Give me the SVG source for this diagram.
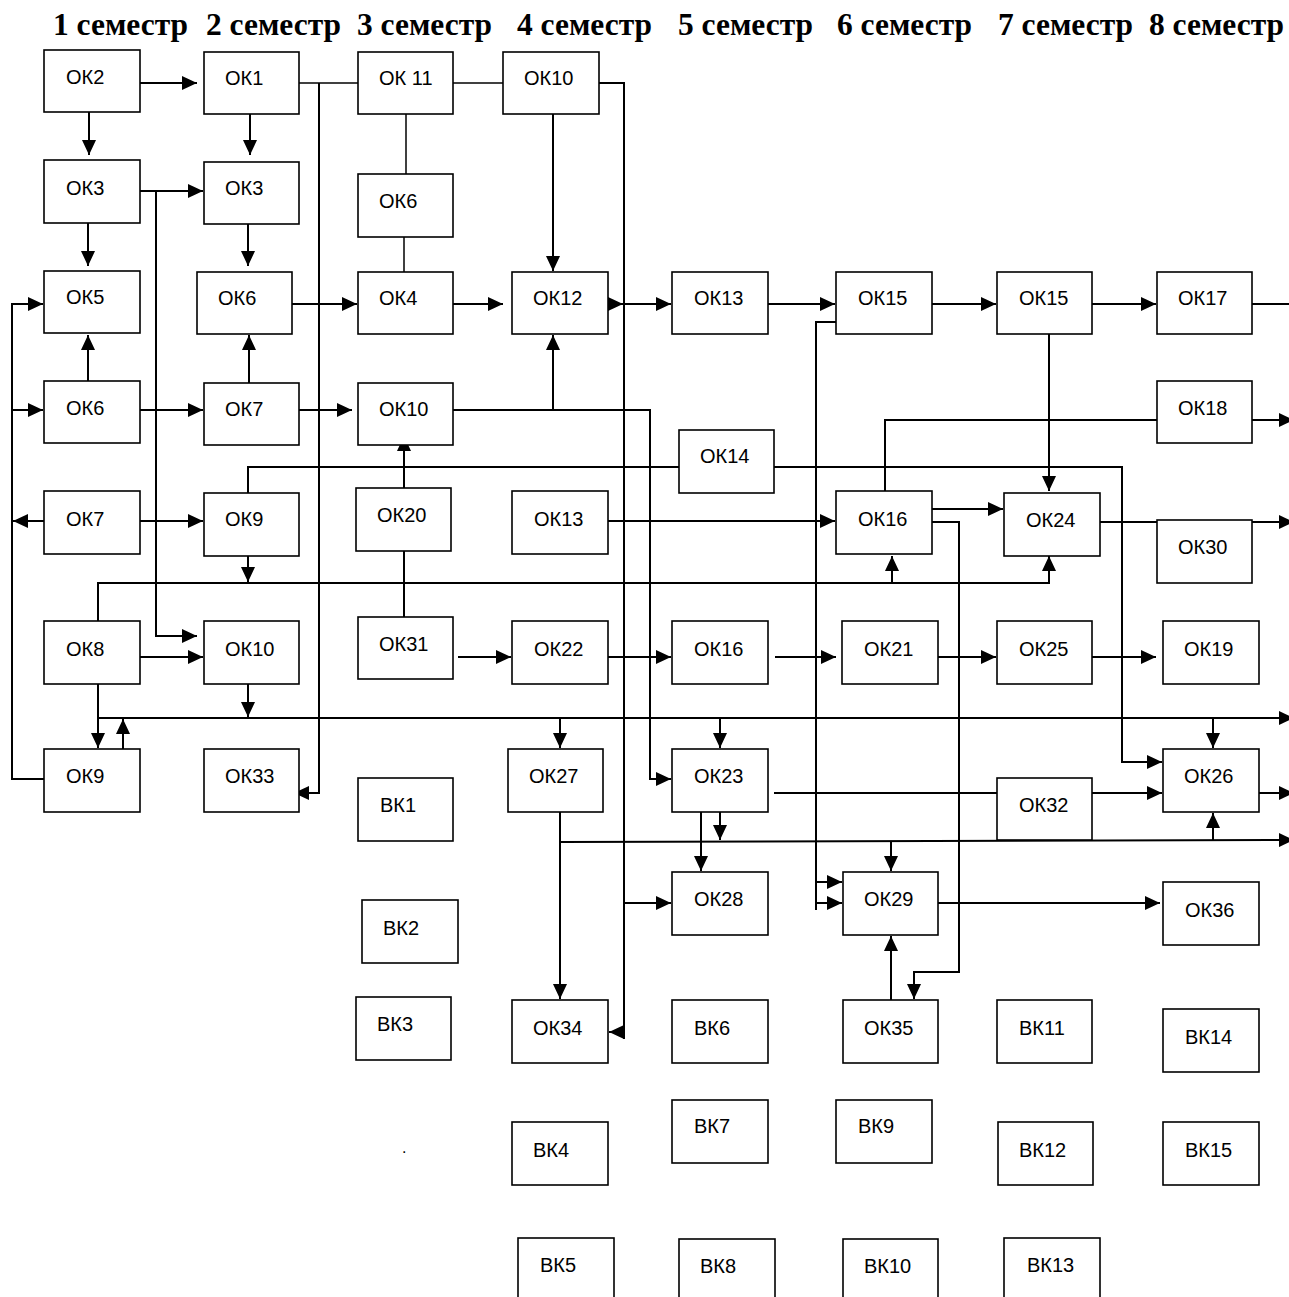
<svg xmlns="http://www.w3.org/2000/svg" width="1289" height="1297" viewBox="0 0 1289 1297">
<style>
.t{font-family:"Liberation Serif","Times New Roman",serif;font-weight:bold;font-size:32px;fill:#000}
.n rect{fill:#fff;stroke:#000;stroke-width:1.6}
.n text{font-family:"Liberation Sans",Arial,sans-serif;font-size:20px;fill:#000}
.c path{fill:none;stroke:#000;stroke-width:2}
.c path.a{marker-end:url(#ah)}
.c path.th{stroke-width:1.5}
</style>
<defs>
<marker id="ah" markerWidth="15" markerHeight="14" refX="15" refY="7" orient="auto" markerUnits="userSpaceOnUse">
<path d="M0,0 L15,7 L0,14 z" fill="#000"/>
</marker>
</defs>
<rect x="0" y="0" width="1289" height="1297" fill="#fff"/>
<g id="titles">
<text class="t" x="53" y="35" textLength="135" lengthAdjust="spacingAndGlyphs">1 семестр</text>
<text class="t" x="206" y="35" textLength="135" lengthAdjust="spacingAndGlyphs">2 семестр</text>
<text class="t" x="357" y="35" textLength="135" lengthAdjust="spacingAndGlyphs">3 семестр</text>
<text class="t" x="517" y="35" textLength="135" lengthAdjust="spacingAndGlyphs">4 семестр</text>
<text class="t" x="678" y="35" textLength="135" lengthAdjust="spacingAndGlyphs">5 семестр</text>
<text class="t" x="837" y="35" textLength="135" lengthAdjust="spacingAndGlyphs">6 семестр</text>
<text class="t" x="998" y="35" textLength="135" lengthAdjust="spacingAndGlyphs">7 семестр</text>
<text class="t" x="1149" y="35" textLength="135" lengthAdjust="spacingAndGlyphs">8 семестр</text>
</g>
<g id="connectors" class="c">
<path class="a" d="M140,83 H197"/>
<path class="a" d="M89,112 V155"/>
<path class="a" d="M250,114 V155"/>
<path class="th" d="M299,83 H358"/>
<path class="th" d="M453,83 H503"/>
<path class="th" d="M406,114 V174"/>
<path class="th" d="M404,237 V272"/>
<path class="a" d="M319,83 V793 H294"/>
<path d="M599,83 H624 V1039"/>
<path class="a" d="M624,1032 H609"/>
<path class="a" d="M624,903 H671"/>
<path class="a" d="M140,191 H203"/>
<path class="a" d="M156,191 V636 H197"/>
<path class="a" d="M88,223 V266"/>
<path class="a" d="M248,224 V266"/>
<path class="a" d="M292,304 H357"/>
<path class="a" d="M453,304 H503"/>
<path class="a" d="M553,114 V271"/>
<path class="a" d="M453,410 H650 V779 H671"/>
<path class="a" d="M553,410 V335"/>
<path class="a" d="M44,779 H12 V304 H43"/>
<path class="a" d="M12,410 H43"/>
<path class="a" d="M88,381 V335"/>
<path class="a" d="M249,383 V335"/>
<path class="a" d="M140,410 H203"/>
<path class="a" d="M299,410 H352"/>
<path class="a" d="M404,488 V436"/>
<path d="M404,551 V617"/>
<path d="M248,493 V467 H679"/>
<path class="a" d="M774,467 H1122 V762 H1162"/>
<path class="a" d="M140,521 H203"/>
<path class="a" d="M44,521 H13"/>
<path class="a" d="M248,556 V582"/>
<path class="a" d="M98,621 V583 H1049 V556"/>
<path class="a" d="M892,583 V556"/>
<path class="a" d="M140,657 H203"/>
<path class="a" d="M98,684 V748"/>
<path class="a" d="M123,749 V719"/>
<path class="a" d="M248,684 V717"/>
<path class="a" d="M98,718 H1294"/>
<path class="a" d="M560,718 V748"/>
<path class="a" d="M720,718 V748"/>
<path class="a" d="M1213,718 V748"/>
<path class="a" d="M458,657 H511"/>
<path class="a" d="M608,657 H671"/>
<path class="a" d="M775,657 H836"/>
<path class="a" d="M938,657 H996"/>
<path class="a" d="M1092,657 H1156"/>
<path class="a" d="M608,521 H835"/>
<path class="a" d="M932,509 H1003"/>
<path class="a" d="M932,522 H959 V972 H914 V999"/>
<path d="M885,491 V420 H1157"/>
<path class="a" d="M1252,420 H1294"/>
<path class="a" d="M1049,334 V491"/>
<path class="a" d="M604,304 H623"/>
<path class="a" d="M623,304 H671"/>
<path class="a" d="M768,304 H835"/>
<path class="a" d="M932,304 H996"/>
<path class="a" d="M1092,304 H1156"/>
<path d="M1252,304 H1289"/>
<path d="M836,322 H816 V910"/>
<path class="a" d="M816,882 H842"/>
<path class="a" d="M816,903 H842"/>
<path d="M774,793 H997"/>
<path class="a" d="M1092,793 H1162"/>
<path class="a" d="M1259,793 H1294"/>
<path class="a" d="M701,812 V871"/>
<path class="a" d="M720,812 V840"/>
<path class="a" d="M560,812 V999"/>
<path class="a" d="M560,842 L1294,840"/>
<path class="a" d="M891,841 V871"/>
<path class="a" d="M1213,841 V813"/>
<path class="a" d="M938,903 H1160"/>
<path class="a" d="M891,1000 V936"/>
<path class="a" d="M1100,522 H1294"/>
</g>
<g id="n_ok2" class="n"><rect x="44" y="50" width="96" height="62"/><text x="66" y="84">ОК2</text></g>
<g id="n_ok3a" class="n"><rect x="44" y="160" width="96" height="63"/><text x="66" y="195">ОК3</text></g>
<g id="n_ok5" class="n"><rect x="44" y="271" width="96" height="62"/><text x="66" y="304">ОК5</text></g>
<g id="n_ok6a" class="n"><rect x="44" y="381" width="96" height="62"/><text x="66" y="415">ОК6</text></g>
<g id="n_ok7a" class="n"><rect x="44" y="491" width="96" height="63"/><text x="66" y="526">ОК7</text></g>
<g id="n_ok8" class="n"><rect x="44" y="621" width="96" height="63"/><text x="66" y="656">ОК8</text></g>
<g id="n_ok9a" class="n"><rect x="44" y="749" width="96" height="63"/><text x="66" y="783">ОК9</text></g>
<g id="n_ok1" class="n"><rect x="204" y="52" width="95" height="62"/><text x="225" y="85">ОК1</text></g>
<g id="n_ok3b" class="n"><rect x="204" y="162" width="95" height="62"/><text x="225" y="195">ОК3</text></g>
<g id="n_ok6b" class="n"><rect x="197" y="272" width="95" height="62"/><text x="218" y="305">ОК6</text></g>
<g id="n_ok7b" class="n"><rect x="204" y="383" width="95" height="62"/><text x="225" y="416">ОК7</text></g>
<g id="n_ok9b" class="n"><rect x="204" y="493" width="95" height="63"/><text x="225" y="526">ОК9</text></g>
<g id="n_ok10b" class="n"><rect x="204" y="621" width="95" height="63"/><text x="225" y="656">ОК10</text></g>
<g id="n_ok33" class="n"><rect x="204" y="749" width="95" height="63"/><text x="225" y="783">ОК33</text></g>
<g id="n_ok11" class="n"><rect x="358" y="52" width="95" height="62"/><text x="379" y="85">ОК 11</text></g>
<g id="n_ok6c" class="n"><rect x="358" y="174" width="95" height="63"/><text x="379" y="208">ОК6</text></g>
<g id="n_ok4" class="n"><rect x="358" y="272" width="95" height="62"/><text x="379" y="305">ОК4</text></g>
<g id="n_ok10c" class="n"><rect x="358" y="383" width="95" height="62"/><text x="379" y="416">ОК10</text></g>
<g id="n_ok20" class="n"><rect x="356" y="488" width="95" height="63"/><text x="377" y="522">ОК20</text></g>
<g id="n_ok31" class="n"><rect x="358" y="617" width="95" height="62"/><text x="379" y="651">ОК31</text></g>
<g id="n_vk1" class="n"><rect x="358" y="778" width="95" height="63"/><text x="380" y="812">ВК1</text></g>
<g id="n_vk2" class="n"><rect x="362" y="900" width="96" height="63"/><text x="383" y="935">ВК2</text></g>
<g id="n_vk3" class="n"><rect x="356" y="997" width="95" height="63"/><text x="377" y="1031">ВК3</text></g>
<g id="n_ok10d" class="n"><rect x="503" y="52" width="96" height="62"/><text x="524" y="85">ОК10</text></g>
<g id="n_ok12" class="n"><rect x="512" y="272" width="96" height="62"/><text x="533" y="305">ОК12</text></g>
<g id="n_ok13a" class="n"><rect x="512" y="491" width="96" height="63"/><text x="534" y="526">ОК13</text></g>
<g id="n_ok22" class="n"><rect x="512" y="621" width="96" height="63"/><text x="534" y="656">ОК22</text></g>
<g id="n_ok27" class="n"><rect x="508" y="749" width="95" height="63"/><text x="529" y="783">ОК27</text></g>
<g id="n_ok34" class="n"><rect x="512" y="1000" width="96" height="63"/><text x="533" y="1035">ОК34</text></g>
<g id="n_vk4" class="n"><rect x="512" y="1122" width="96" height="63"/><text x="533" y="1157">ВК4</text></g>
<g id="n_vk5" class="n"><rect x="518" y="1238" width="96" height="64"/><text x="540" y="1272">ВК5</text></g>
<g id="n_ok13b" class="n"><rect x="672" y="272" width="96" height="62"/><text x="694" y="305">ОК13</text></g>
<g id="n_ok14" class="n"><rect x="679" y="430" width="95" height="63"/><text x="700" y="463">ОК14</text></g>
<g id="n_ok16a" class="n"><rect x="672" y="621" width="96" height="63"/><text x="694" y="656">ОК16</text></g>
<g id="n_ok23" class="n"><rect x="672" y="749" width="96" height="63"/><text x="694" y="783">ОК23</text></g>
<g id="n_ok28" class="n"><rect x="672" y="872" width="96" height="63"/><text x="694" y="906">ОК28</text></g>
<g id="n_vk6" class="n"><rect x="672" y="1000" width="96" height="63"/><text x="694" y="1035">ВК6</text></g>
<g id="n_vk7" class="n"><rect x="672" y="1100" width="96" height="63"/><text x="694" y="1133">ВК7</text></g>
<g id="n_vk8" class="n"><rect x="679" y="1239" width="96" height="64"/><text x="700" y="1273">ВК8</text></g>
<g id="n_ok15a" class="n"><rect x="836" y="272" width="96" height="62"/><text x="858" y="305">ОК15</text></g>
<g id="n_ok16b" class="n"><rect x="836" y="491" width="96" height="63"/><text x="858" y="526">ОК16</text></g>
<g id="n_ok21" class="n"><rect x="842" y="621" width="96" height="63"/><text x="864" y="656">ОК21</text></g>
<g id="n_ok29" class="n"><rect x="843" y="872" width="95" height="63"/><text x="864" y="906">ОК29</text></g>
<g id="n_ok35" class="n"><rect x="843" y="1000" width="95" height="63"/><text x="864" y="1035">ОК35</text></g>
<g id="n_vk9" class="n"><rect x="836" y="1100" width="96" height="63"/><text x="858" y="1133">ВК9</text></g>
<g id="n_vk10" class="n"><rect x="843" y="1239" width="95" height="64"/><text x="864" y="1273">ВК10</text></g>
<g id="n_ok15b" class="n"><rect x="997" y="272" width="95" height="62"/><text x="1019" y="305">ОК15</text></g>
<g id="n_ok24" class="n"><rect x="1004" y="493" width="96" height="63"/><text x="1026" y="527">ОК24</text></g>
<g id="n_ok25" class="n"><rect x="997" y="621" width="95" height="63"/><text x="1019" y="656">ОК25</text></g>
<g id="n_ok32" class="n"><rect x="997" y="778" width="95" height="62"/><text x="1019" y="812">ОК32</text></g>
<g id="n_vk11" class="n"><rect x="997" y="1000" width="95" height="63"/><text x="1019" y="1035">ВК11</text></g>
<g id="n_vk12" class="n"><rect x="998" y="1122" width="95" height="63"/><text x="1019" y="1157">ВК12</text></g>
<g id="n_vk13" class="n"><rect x="1004" y="1238" width="96" height="64"/><text x="1027" y="1272">ВК13</text></g>
<g id="n_ok17" class="n"><rect x="1157" y="272" width="95" height="62"/><text x="1178" y="305">ОК17</text></g>
<g id="n_ok18" class="n"><rect x="1157" y="381" width="95" height="62"/><text x="1178" y="415">ОК18</text></g>
<g id="n_ok30" class="n"><rect x="1157" y="520" width="95" height="63"/><text x="1178" y="554">ОК30</text></g>
<g id="n_ok19" class="n"><rect x="1163" y="621" width="96" height="63"/><text x="1184" y="656">ОК19</text></g>
<g id="n_ok26" class="n"><rect x="1163" y="749" width="96" height="63"/><text x="1184" y="783">ОК26</text></g>
<g id="n_ok36" class="n"><rect x="1163" y="882" width="96" height="63"/><text x="1185" y="917">ОК36</text></g>
<g id="n_vk14" class="n"><rect x="1163" y="1009" width="96" height="63"/><text x="1185" y="1044">ВК14</text></g>
<g id="n_vk15" class="n"><rect x="1163" y="1122" width="96" height="63"/><text x="1185" y="1157">ВК15</text></g>
<text x="402" y="1153" font-family="Liberation Sans, Arial, sans-serif" font-size="16">.</text>
</svg>
